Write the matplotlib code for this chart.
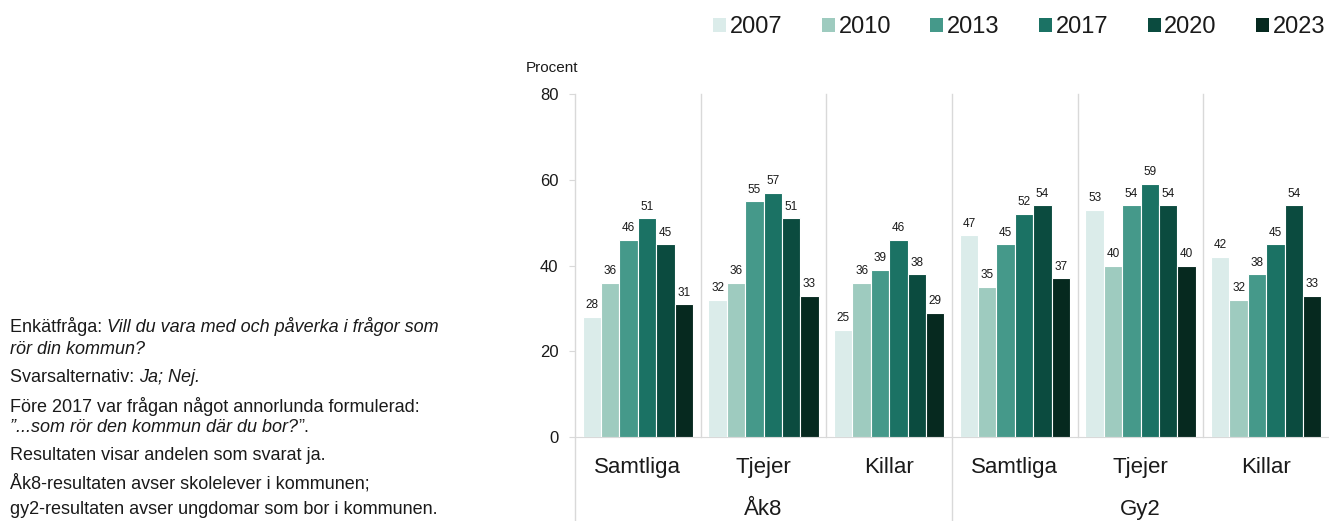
import matplotlib
matplotlib.use('Agg')
import matplotlib.pyplot as plt
from matplotlib.patches import Patch

plt.rcParams['font.family'] = ['Liberation Sans', 'DejaVu Sans']

# data
groups = ['Samtliga', 'Tjejer', 'Killar', 'Samtliga', 'Tjejer', 'Killar']
levels = ['Åk8', 'Gy2']
years = ['2007', '2010', '2013', '2017', '2020', '2023']
v2007 = [28, 32, 25, 47, 53, 42]
v2010 = [36, 36, 36, 35, 40, 32]
v2013 = [46, 55, 39, 45, 54, 38]
v2017 = [51, 57, 46, 52, 59, 45]
v2020 = [45, 51, 38, 54, 54, 54]
v2023 = [31, 33, 29, 37, 40, 33]
series = [v2007, v2010, v2013, v2017, v2020, v2023]
colors = ['#dbecea', '#9ecbbf', '#45998a', '#1b7264', '#0b4b3f', '#06291f']

grid_col = '#d9d9d9'
txt_col = '#1a1a1a'

fig = plt.figure(figsize=(13.29, 5.21), dpi=100)
ax = fig.add_axes([575/1329, 84/521, 754/1329, 343/521])

w = 0.146
x = list(range(len(groups)))
for i in range(len(years)):
    pos = [xx + (i - 2.5) * w for xx in x]
    bars = ax.bar(pos, series[i], width=w, color=colors[i],
                  edgecolor='white', linewidth=0.8, zorder=3)
    for b, val in zip(bars, series[i]):
        ax.annotate(str(val), (b.get_x() + b.get_width() / 2, val),
                    textcoords='offset points', xytext=(0, 4),
                    ha='center', va='bottom', fontsize=8.5, color=txt_col)

ax.set_xlim(-0.5, 5.5)
ax.set_ylim(0, 80)
ax.set_yticks([0, 20, 40, 60, 80])
ax.tick_params(axis='y', length=4, color=grid_col, labelsize=12, pad=8,
               labelcolor=txt_col)
ax.set_xticks([])
for s in ['top', 'right', 'left']:
    ax.spines[s].set_visible(False)
ax.spines['bottom'].set_color(grid_col)

# separators, the outer ones run down through the labels
for k in range(len(groups)):
    ymin = -0.245 if k in (0, 3) else 0
    ax.axvline(k - 0.5, ymin=ymin, ymax=1, color=grid_col, lw=1,
               clip_on=False, zorder=1)

tr = ax.get_xaxis_transform()
for k, g in enumerate(groups):
    ax.text(k, -0.09, g, transform=tr, ha='center', va='center',
            fontsize=16, color=txt_col)
for k, lv in enumerate(levels):
    ax.text(1 + 3 * k, -0.21, lv, transform=tr, ha='center', va='center',
            fontsize=16, color=txt_col)

fig.text(552/1329, 1 - 68/521, 'Procent', ha='center', va='center',
         fontsize=11, color=txt_col)

handles = [Patch(facecolor=c, edgecolor='none') for c in colors]
fig.legend(handles, years, loc='upper right', bbox_to_anchor=(1.013, 1.01),
           ncol=6, frameon=False, fontsize=17, handlelength=0.55,
           handleheight=0.55, handletextpad=0.15, columnspacing=1.67,
           labelcolor=txt_col)

# notes on the left
fs = 13
x0 = 10 / 1329
notes = [
    (327, [('Enkätfråga: ', 'normal'), ('Vill du vara med och påverka i frågor som', 'italic')]),
    (349, [('rör din kommun?', 'italic')]),
    (377, [('Svarsalternativ: ', 'normal'), ('Ja; Nej.', 'italic')]),
    (406, [('Före 2017 var frågan något annorlunda formulerad:', 'normal')]),
    (427, [('”...som rör den kommun där du bor?', 'italic'), ('”.', 'normal')]),
    (455, [('Resultaten visar andelen som svarat ja.', 'normal')]),
    (483, [('Åk8-resultaten avser skolelever i kommunen;', 'normal')]),
    (510, [('gy2-resultaten avser ungdomar som bor i kommunen.', 'normal')]),
]
for y, parts in notes:
    last = None
    for txt, style in parts:
        if last is None:
            last = fig.text(x0, 1 - y / 521, txt, ha='left', va='center',
                            fontsize=fs, style=style, color=txt_col)
        else:
            # continue on the same line right after the previous piece
            last = ax.annotate(txt, xy=(1, 0.5), xycoords=last,
                               ha='left', va='center', fontsize=fs,
                               style=style, color=txt_col,
                               annotation_clip=False)

fig.savefig('out.png', dpi=100)
